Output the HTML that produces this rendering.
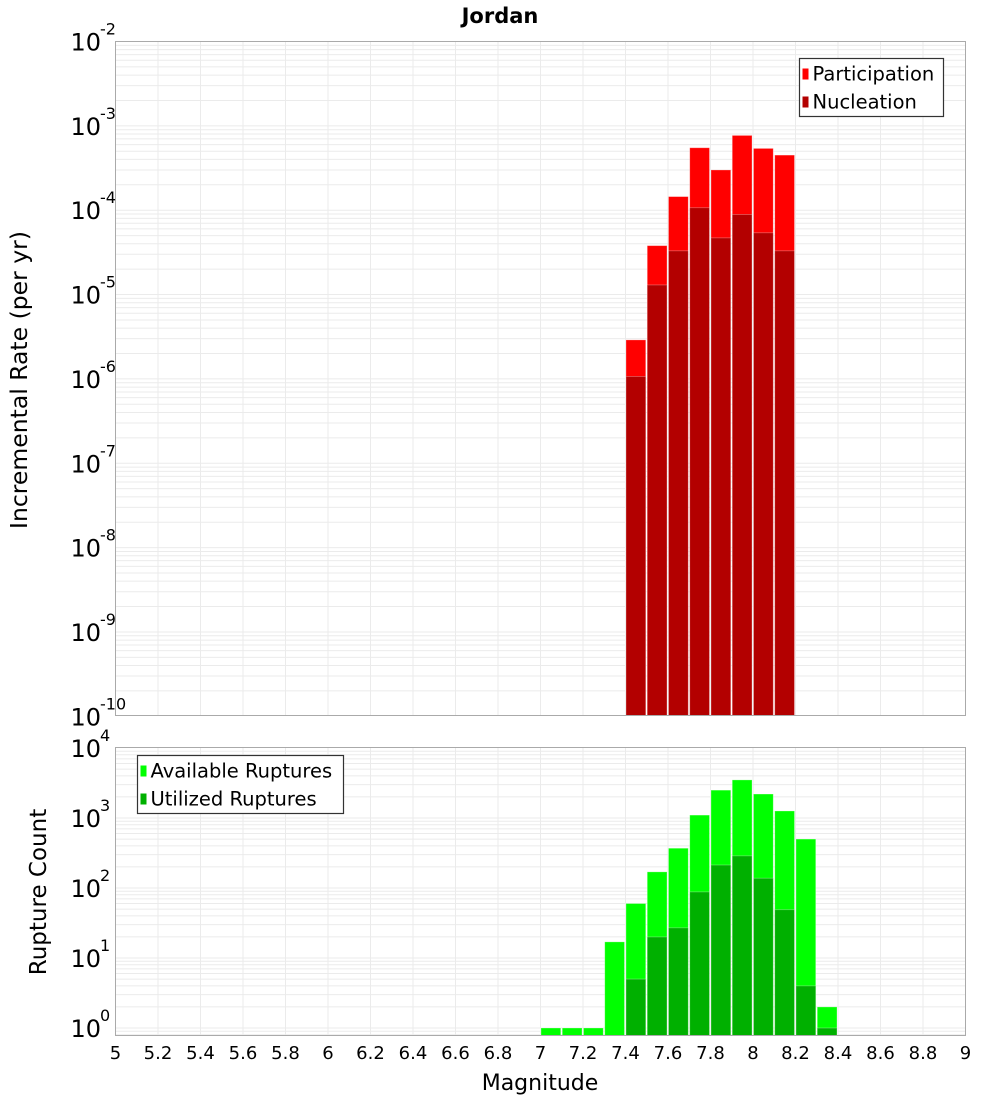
<!DOCTYPE html>
<html><head><meta charset="utf-8"><style>
body{margin:0;background:#fff;}
svg{display:block;font-family:"DejaVu Sans","Liberation Sans",sans-serif;}
</style></head><body>
<svg id="chart" width="1000" height="1100" viewBox="0 0 1000 1100" xmlns="http://www.w3.org/2000/svg">
<rect width="1000" height="1100" fill="#fff"/>
<text x="500" y="23" text-anchor="middle" font-weight="bold" font-size="21">Jordan</text>
<g id="top"></g>
<g id="bot"></g>
<text transform="translate(27,380) rotate(-90)" text-anchor="middle" font-size="23.5">Incremental Rate (per yr)</text>
<text transform="translate(46,892) rotate(-90)" text-anchor="middle" font-size="23">Rupture Count</text>
<text x="540" y="1090" text-anchor="middle" font-size="22">Magnitude</text>
</svg>
<script>
const rateBins = [7.4,7.5,7.6,7.7,7.8,7.9,8.0,8.1];
const participation = [2.9e-6,3.8e-5,1.45e-4,5.5e-4,3.0e-4,7.7e-4,5.4e-4,4.5e-4];
const nucleation = [1.07e-6,1.3e-5,3.3e-5,1.07e-4,4.7e-5,8.9e-5,5.4e-5,3.3e-5];
const countBins = [7.0,7.1,7.2,7.3,7.4,7.5,7.6,7.7,7.8,7.9,8.0,8.1,8.2,8.3];
const available = [1,1,1,17,60,170,370,1100,2500,3500,2200,1260,500,2];
const utilized = [0,0,0,0,5,20,27,88,213,288,138,49,4,1];
const xTicks = [5,5.2,5.4,5.6,5.8,6,6.2,6.4,6.6,6.8,7,7.2,7.4,7.6,7.8,8,8.2,8.4,8.6,8.8,9];
const rateExps = [-2,-3,-4,-5,-6,-7,-8,-9,-10];
const countExps = [0,1,2,3,4];

const NS="http://www.w3.org/2000/svg";
const L=115.5,R=965.5;
const x=m=>L+(m-5)/4*(R-L);
const yTop=v=>41.5+84.35*(-2-Math.log10(v));
const yBot=v=>1028-70*Math.log10(v);
function mk(p,tag,a){const e=document.createElementNS(NS,tag);for(const k in a)e.setAttribute(k,a[k]);p.appendChild(e);return e;}

function panel(g,top,bot,yf,decLo,decHi,name){
  mk(g,'rect',{x:L,y:top,width:R-L,height:bot-top,fill:'#fff'});
  for(let d=decLo;d<decHi;d++)for(let k=1;k<10;k++){const yy=yf(k*Math.pow(10,d));if(yy<top||yy>bot)continue;
    const ln=mk(g,'line',{x1:L,x2:R,y1:yy,y2:yy,stroke:'#ebebeb','stroke-width':1});
    }
  xTicks.forEach(t=>{const ln=mk(g,'line',{x1:x(t),x2:x(t),y1:top,y2:bot,stroke:'#ebebeb','stroke-width':1});
    });
}
function ylabel(g,yy,e,name){
  const t=mk(g,'text',{x:101,y:yy+9,'text-anchor':'end','font-size':24});
  t.textContent='10';
  
  const s=mk(g,'text',{x:100,y:yy-7,'font-size':16});s.textContent=String(e);
  
}
function bar(g,m,v,yf,bot,color,name){
  if(v<=0)return;
  const yy=Math.max(yf(v),0);
  const r=mk(g,'rect',{x:x(m)+0.5,y:yy,width:x(m+0.1)-x(m)-1.5,height:bot-yy,fill:color,stroke:'#fff','stroke-opacity':0.35,'stroke-width':0.8});
  
}
function legend(g,x0,y0,w,items,name){
  const b=mk(g,'rect',{x:x0,y:y0,width:w,height:58,fill:'#fff',stroke:'#333','stroke-width':1.2});
  
  items.forEach((it,i)=>{
    const sw=mk(g,'rect',{x:x0+3,y:y0+10+i*28,width:6,height:11,fill:it[1]});
    
    const t=mk(g,'text',{x:x0+13,y:y0+22+i*28,'font-size':19.5});t.textContent=it[0];
    
  });
}
const gt=document.getElementById('top'), gb=document.getElementById('bot');
panel(gt,41.5,715.5,yTop,-10,-2,'rate');
rateBins.forEach((m,i)=>bar(gt,m,participation[i],yTop,715.5,'#ff0000','participation-bar'));
rateBins.forEach((m,i)=>bar(gt,m,nucleation[i],yTop,715.5,'#b30000','nucleation-bar'));
mk(gt,'rect',{x:L,y:41.5,width:R-L,height:674,fill:'none',stroke:'#aaa','stroke-width':1});
rateExps.forEach(e=>ylabel(gt,yTop(Math.pow(10,e)),e,'rate-tick-label'));
legend(gt,799.5,58.5,144,[['Participation','#ff0000'],['Nucleation','#b30000']],'rate-legend');
panel(gb,747.5,1035.5,yBot,-1,4,'count');
countBins.forEach((m,i)=>bar(gb,m,available[i],yBot,1035.5,'#00ff00','available-bar'));
countBins.forEach((m,i)=>bar(gb,m,utilized[i],yBot,1035.5,'#00b000','utilized-bar'));
mk(gb,'rect',{x:L,y:747.5,width:R-L,height:288,fill:'none',stroke:'#aaa','stroke-width':1});
countExps.forEach(e=>ylabel(gb,yBot(Math.pow(10,e)),e,'count-tick-label'));
legend(gb,137.5,755.5,206,[['Available Ruptures','#00ff00'],['Utilized Ruptures','#00b000']],'count-legend');
xTicks.forEach(t=>{const tx=mk(gb,'text',{x:x(t),y:1059,'text-anchor':'middle','font-size':18});
  tx.textContent=String(t);
  });
</script>
</body></html>
